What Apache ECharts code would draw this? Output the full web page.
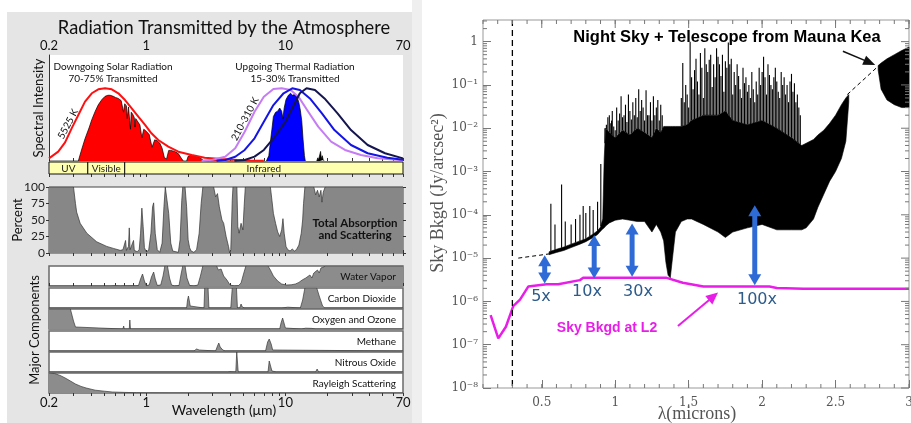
<!DOCTYPE html>
<html><head><meta charset="utf-8">
<script src="https://cdn.jsdelivr.net/npm/echarts@6/dist/echarts.min.js"></script>
<style>html,body{margin:0;padding:0;background:#fff}#c{position:relative;width:911px;height:423px}#l{position:absolute;left:0;top:0;width:412px;height:423px}#r,#s{position:absolute;left:412px;top:0;width:499px;height:423px}#s{pointer-events:none}</style>
</head><body><div id="c"><div id="l"></div><div id="r"></div><div id="s"></div></div>
<script>
// ---------------- LEFT PANEL DATA ----------------
const leftTitle = 'Radiation Transmitted by the Atmosphere';
const leftTickLabels = [0.2, 1, 10, 70];
const bandNames = ['UV', 'Visible', 'Infrared'];
const bandStart = [0.2, 0.38, 0.7];
const bandEnd = [0.38, 0.7, 70];

const solarEnvLam = [0.2,0.233,0.261,0.291,0.325,0.363,0.406,0.452,0.506,0.565,0.63,0.704,0.786,0.877,0.98,1.09,1.22,1.44,1.7,2.12,2.63,3.47,4.5,5.6,7.0];
const solarEnvVal = [2.5,8.8,17.6,30.8,43.4,56,63.9,67.6,68.6,67.6,63.9,57.5,49.7,41.8,34,26.1,19.8,13.5,8.8,5.7,3.1,1.9,1.0,0.5,0.2];

const solarLam = [0.2,0.3,0.325,0.34,0.363,0.39,0.406,0.43,0.452,0.48,0.506,0.53,0.55,0.58,0.6,0.63,0.66,0.68,0.687,0.70,0.72,0.73,0.745,0.76,0.77,0.78,0.8,0.82,0.83,0.84,0.88,0.9,0.93,0.96,1.0,1.05,1.1,1.15,1.2,1.25,1.3,1.35,1.4,1.45,1.5,1.6,1.7,1.8,1.85,1.95,2.0,2.1,2.2,2.3,2.4,2.5,2.6,2.8,2.9,3.2,3.5,3.8,4.2];
const solarVal = [0,0,0,9,21,32,39,47,53,58,61,62,62,61,60,59,57,56,46,54,52,40,51,38,30,46,44,41,32,40,36,34,22,30,28,25,13,20,19,17,12,3,2,10,10,9,7,2,0,0,4.5,5.5,5,4.5,3.5,2,0,0,1,1.5,1,0,0];

const t310Lam = [2.5,3.0,3.69,4.36,5.1,6.0,7.0,8.2,9.4,10.9,12.4,14.6,17.2,21.3,26.8,34.9,46,70];
const t310Val = [0.2,1.2,4.1,12,27.6,46.5,60.7,67.9,68.6,67,60.7,46.5,32.4,18.2,10.4,5.7,2.5,0.7];
const t260Lam = [3.2,3.69,4.36,5.1,6.0,7.0,8.2,9.7,11.2,12.7,15.0,18.3,22.5,29.6,39,54,70];
const t260Val = [0.3,1,4,10.4,21.4,37,52.8,63.9,68.6,67,59,45,29.2,15.1,7.3,3.1,1.2];
const t210Lam = [4.3,5.1,6.0,7.0,8.2,10.0,11.5,12.7,14.2,16.3,19.1,23.7,29.6,39,52,70];
const t210Val = [0.3,1,4.1,10.4,21.4,37,52.8,63.9,68.6,67,59,45,29.2,15.1,7.3,2.5];

const thermalLam = [7.3,7.6,7.8,8.0,8.2,8.5,8.8,9.1,9.4,9.6,9.8,10.1,10.5,10.9,11.2,11.5,11.8,12.1,12.5,12.8,13.1,13.4,13.7,13.9];
const thermalVal = [0,5,18,30,42,46,47,50,47,40,50,58,62,64,62,61,63,61,55,48,38,20,5,0];
const residLam = [16.8,17.1,17.3,17.5,17.7,17.9,18.1,18.4,18.7,19.0];
const residVal = [0,3,1,2,1,9,2,5,1,0];

const totalLam = [0.2,0.3,0.31,0.316,0.335,0.374,0.44,0.52,0.58,0.65,0.68,0.7,0.71,0.72,0.745,0.755,0.765,0.79,0.81,0.82,0.86,0.89,0.91,0.93,0.95,0.97,1.0,1.04,1.08,1.11,1.13,1.16,1.2,1.25,1.3,1.34,1.37,1.41,1.45,1.5,1.55,1.6,1.7,1.75,1.8,1.83,1.9,1.95,2.0,2.05,2.1,2.2,2.3,2.4,2.48,2.55,3.05,3.15,3.25,3.35,3.5,3.6,3.75,3.9,3.98,4.05,4.15,4.2,4.48,4.55,4.65,4.8,4.95,5.05,5.15,7.8,8.0,8.2,8.5,8.8,9.1,9.4,9.6,9.8,10.1,10.4,10.8,11.2,11.6,12.0,12.5,13.0,13.3,13.5,13.8,16.0,16.5,17.0,17.5,18.0,18.3,18.7,19.3,70];
const totalVal = [100,100,75,62,45,30,17,10,7,4,5,8,19,4,10,38,5,3,19,4,2,5,30,68,40,8,2,4,30,70,76,30,5,1,15,70,100,100,60,15,3,0,1,20,80,100,100,70,20,8,3,1,5,30,75,100,100,85,90,70,50,45,25,10,0,5,80,100,100,40,30,45,35,70,100,100,80,60,45,32,25,35,52,30,10,5,3,6,3,5,12,30,50,75,100,100,88,95,85,95,77,92,100,100];

const componentNames = ['Water Vapor', 'Carbon Dioxide', 'Oxygen and Ozone', 'Methane', 'Nitrous Oxide', 'Rayleigh Scattering'];
const waterLam = [0.2,0.55,0.6,0.65,0.7,0.72,0.74,0.8,0.82,0.84,0.88,0.91,0.94,0.97,1.0,1.05,1.09,1.13,1.16,1.2,1.27,1.32,1.36,1.42,1.47,1.52,1.6,1.72,1.78,1.83,1.9,1.96,2.05,2.2,2.35,2.45,2.55,3.2,3.3,3.45,3.6,3.8,4.0,4.3,4.6,4.8,5.0,5.2,7.5,7.8,8.2,8.8,9.4,10.2,11.0,11.8,12.5,13.2,13.5,14.0,14.4,15.0,15.5,16.0,16.5,17.0,17.5,18.0,18.5,19.5,70];
const waterVal = [0,0,2,0,1,8,1,2,10,1,3,35,60,25,2,5,45,70,35,3,5,50,100,100,40,5,0,3,60,100,100,40,3,0,5,50,100,100,80,85,50,30,5,0,2,15,60,100,100,80,50,25,10,5,6,10,18,30,20,40,30,55,40,65,55,80,65,90,80,100,100];
const co2Lam = [0.2,1.4,1.43,1.46,1.55,1.58,1.61,1.95,1.98,2.01,2.04,2.07,2.1,2.6,2.63,2.78,2.82,4.05,4.15,4.45,4.52,4.7,4.8,4.9,5.0,5.1,9.4,9.6,10.4,10.6,12.8,13.3,13.8,16.8,17.5,18.5,19.2,70];
const co2Val = [0,0,4,0,0,3,0,0,40,60,35,10,0,0,100,100,0,0,100,100,0,0,20,5,10,0,0,3,4,0,0,40,100,100,60,10,0,0];
const o2Lam = [0.2,0.285,0.3,0.31,0.32,0.68,0.688,0.695,0.755,0.762,0.77,1.25,1.265,1.28,4.6,4.75,4.85,9.1,9.3,9.55,9.8,10.0,10.2,13.0,14.0,15.5,16.5,70];
const o2Val = [100,100,40,10,0,0,15,0,0,45,0,0,6,0,0,8,0,0,30,55,45,5,0,0,4,3,0,0];
const ch4Lam = [0.2,2.2,2.3,2.4,2.45,3.15,3.25,3.32,3.4,3.55,3.7,7.2,7.45,7.65,7.9,8.1,8.3,70];
const ch4Val = [0,0,10,5,0,0,25,40,20,5,0,0,45,60,35,5,0,0];
const n2oLam = [0.2,2.85,2.9,2.95,3.85,3.9,4.0,4.05,4.4,4.47,4.52,4.58,7.5,7.65,7.8,8.0,8.6,16.5,16.9,17.3,70];
const n2oVal = [0,0,8,0,0,8,2,0,0,100,100,0,0,55,50,5,0,0,15,0,0];
const rayLam = [0.2,0.22,0.24,0.26,0.285,0.31,0.34,0.37,0.43,0.5,0.57,0.7,0.85,1.0,1.5,70];
const rayVal = [100,97,88,76,60,45,33,25,14,9,5,3,1.5,0.8,0.2,0];

// ---------------- RIGHT PANEL DATA ----------------
const rightTitle = 'Night Sky + Telescope from Mauna Kea';
const rightXLabels = [0.5, 1, 1.5, 2, 2.5, 3];
const rightYLabels = ['10\u207B\u2078','10\u207B\u2077','10\u207B\u2076','10\u207B\u2075','10\u207B\u2074','10\u207B\u00B3','10\u207B\u00B2','10\u207B\u00B9','1'];
const darkLimit = 0.3;

const l2Lam = [0.152,0.204,0.256,0.306,0.352,0.408,0.533,0.612,0.76,0.782,1.35,1.46,1.6,2.05,2.1,2.28,3.0];
const l2Val = [4.8e-7,1.4e-7,2.6e-7,7.8e-7,1.1e-6,2.2e-6,2.5e-6,2.5e-6,3.1e-6,3.5e-6,3.5e-6,2.7e-6,2.2e-6,2.2e-6,2.05e-6,1.95e-6,1.95e-6];

const mainLam = [0.55,0.6,0.65,0.7,0.76,0.8,0.85,0.88,0.9,0.915,0.925,0.935,0.96,1.0,1.05,1.1,1.15,1.2,1.25,1.28,1.31,1.33,1.345,1.36,1.375,1.39,1.41,1.45,1.49,1.52,1.6,1.7,1.75,1.8,1.9,2.0,2.1,2.2,2.27,2.3,2.35,2.38,2.42,2.46,2.5,2.54,2.57,2.59];
const mainTop = [1.4e-5,1.6e-5,1.8e-5,2.1e-5,2.5e-5,2.8e-5,3.6e-5,4.3e-5,5.2e-5,8e-5,2e-3,1e-2,8e-3,6e-3,9e-3,7e-3,1e-2,8e-3,6e-3,1e-2,8e-3,1.1e-2,1.1e-2,1.1e-2,1.1e-2,1.1e-2,1.1e-2,1.1e-2,1.2e-2,1.5e-2,2e-2,2e-2,2.5e-2,1.5e-2,1.2e-2,1.5e-2,1e-2,6e-3,4e-3,4.5e-3,5.5e-3,7e-3,9e-3,1.3e-2,2e-2,3.5e-2,5e-2,6e-2];
const mainBot = [1.2e-5,1.35e-5,1.5e-5,1.75e-5,2.1e-5,2.4e-5,3e-5,3.5e-5,4.2e-5,4.7e-5,5e-5,5.5e-5,6.5e-5,7.5e-5,8e-5,7.5e-5,7e-5,7e-5,4e-5,6e-5,4e-5,2.5e-5,8e-6,4e-6,3.5e-6,1e-5,4e-5,7e-5,8e-5,8e-5,6e-5,4e-5,3e-5,4e-5,5e-5,6e-5,4.5e-5,4.5e-5,4.5e-5,5e-5,8e-5,1.5e-4,3e-4,6e-4,1e-3,2e-3,5e-3,4e-2];
const edgeLam = [2.79,2.81,2.85,2.9,2.95,3.0];
const edgeTop = [0.28,0.32,0.4,0.5,0.62,0.75];
const edgeBot = [0.22,0.08,0.045,0.035,0.03,0.03];
const contALam = [0.34, 0.55];
const contAVal = [1e-5, 1.25e-5];
const contBLam = [2.58, 2.79];
const contBVal = [6e-2, 0.27];

const spikeLam = [0.562,0.59,0.635,0.66,0.7,0.73,0.76,0.782,0.8,0.827,0.85,0.88,0.902,
  0.93,0.94,0.95,0.96,0.97,0.975,0.98,0.99,1.0,1.01,1.02,1.03,1.04,1.05,1.06,1.07,1.08,1.09,1.1,1.11,1.12,1.13,1.14,1.15,1.16,1.17,1.18,1.19,1.2,1.21,1.22,1.23,1.24,1.25,1.26,1.27,1.28,1.29,1.3,1.31,1.32,
  1.45,1.46,1.47,1.48,1.49,1.5,1.51,1.52,1.53,1.54,1.55,1.56,1.57,1.58,1.59,1.6,1.61,1.62,1.63,1.64,1.65,1.66,1.67,1.68,1.69,1.7,1.71,1.72,1.73,1.74,1.75,1.76,1.77,1.78,1.79,1.8,1.81,1.82,1.83,1.84,1.85,1.86,1.87,1.88,1.89,1.9,1.91,1.92,1.93,1.94,1.95,1.96,1.97,1.98,1.99,2.0,2.01,2.02,2.03,2.04,2.05,2.06,2.07,2.08,2.09,2.1,2.11,2.12,2.13,2.14,2.15,2.16,2.17,2.18,2.19,2.2,2.21,2.22,2.23,2.24,2.25,2.26];
const spikeTop = [1.8e-4,6e-5,5e-4,7e-5,6e-5,8e-5,1e-4,1.6e-4,1.1e-4,1.6e-4,1.3e-4,2e-4,1.5e-3,
  0.01,0.012,0.018,0.02,0.013,0.015,0.025,0.011,0.009,0.03,0.015,0.022,0.055,0.018,0.02,0.035,0.014,0.06,0.025,0.016,0.04,0.02,0.05,0.018,0.08,0.025,0.045,0.03,0.015,0.075,0.02,0.02,0.04,0.015,0.055,0.02,0.03,0.045,0.015,0.035,0.02,
  0.05,0.32,0.04,0.1,0.06,0.03,1.0,0.15,0.08,0.22,0.4,0.12,0.06,0.55,0.25,0.05,0.7,0.3,0.2,0.38,0.5,0.09,0.3,0.15,0.7,0.45,0.3,0.16,0.5,0.07,0.35,0.25,0.95,0.3,0.4,0.06,0.2,0.1,0.3,0.16,0.08,0.05,0.25,0.11,0.15,0.07,0.1,0.05,0.2,0.08,0.04,0.12,0.06,0.25,0.1,0.2,0.45,0.15,0.06,0.3,0.17,0.1,0.08,0.15,0.25,0.12,0.07,0.05,0.2,0.1,0.15,0.06,0.1,0.04,0.12,0.18,0.07,0.11,0.04,0.06,0.03,0.02];

const ratioNames = ['5x', '10x', '30x', '100x'];
const ratioLam = [0.52, 0.857, 1.115, 1.95];
const ratioTop = [1.17e-5, 3.4e-5, 6.3e-5, 1.67e-4];
const ratioBot = [2.6e-6, 3.4e-6, 3.7e-6, 2.35e-6];
const l2ArrowLam = [1.427, 1.70];
const l2ArrowVal = [2.7e-7, 1.6e-6];
const skyArrowLam = [2.55, 2.77];
const skyArrowVal = [0.6, 0.29];

// ---------------- HELPERS ----------------
const zip = (a, b) => a.map((v, i) => [v, b[i]]);
const SANS = 'Lato';
const deg = Math.PI / 180;
const T = (text, x, y, o) => Object.assign({type: 'text', x: x, y: y, z: 100, silent: true,
  style: Object.assign({text: text, fill: '#111', fontSize: 10, fontFamily: SANS, align: 'center', verticalAlign: 'middle'}, (o && o.style) || {})},
  o ? {rotation: o.rotation || 0} : {});

// ================= LEFT CHART =================
const leftTickVals = [];
[0.1, 1, 10].forEach(d => { for (let k = 1; k <= 9; k++) { const v = +(k * d).toPrecision(3); if (v >= 0.2 && v <= 70) leftTickVals.push(v); } });
const L = 49, W = 354;
const compTops = [266, 288, 309, 331, 352, 373];
const grids = [
  {left: L, top: 55, width: W, height: 106, show: true, backgroundColor: '#fff', borderWidth: 0},
  {left: L, top: 162, width: W, height: 12},
  {left: L, top: 187, width: W, height: 66, show: true, backgroundColor: '#fff', borderColor: '#444', borderWidth: 1}
];
compTops.forEach(t => grids.push({left: L, top: t, width: W, height: 20, show: true, backgroundColor: '#fff', borderColor: '#6a6a6a', borderWidth: 1.5}));
grids.forEach(g => { g.outerBoundsMode = 'none'; g.containLabel = false; });
const lTick = {show: true, customValues: leftTickVals, length: 3, inside: false, lineStyle: {color: '#333', width: 1}};
const lLabel = {show: true, customValues: leftTickLabels, fontSize: 13, color: '#111', fontFamily: SANS, margin: 3, formatter: v => String(+(+v).toPrecision(3))};
function logX(grid, extra) {
  return Object.assign({type: 'log', logBase: 10, min: 0.2, max: 70, gridIndex: grid, axisLine: {show: false}, axisTick: {show: false}, axisLabel: {show: false}, splitLine: {show: false}}, extra || {});
}
function valY(grid, extra) {
  return Object.assign({type: 'value', min: 0, max: 100, gridIndex: grid, axisLine: {show: false}, axisTick: {show: false}, axisLabel: {show: false}, splitLine: {show: false}}, extra || {});
}
const xAxisL = [
  logX(0, {position: 'top', axisTick: lTick, axisLabel: lLabel}),
  logX(1, {position: 'bottom', axisTick: lTick}),
  logX(2, {position: 'bottom', axisTick: lTick}),
  logX(2, {position: 'top', axisTick: lTick}),
  logX(3, {position: 'top', axisTick: lTick}),
  logX(4), logX(5), logX(6), logX(7),
  logX(8, {position: 'bottom', axisTick: lTick, axisLabel: lLabel})
];
const yAxisL = [
  valY(0, {axisLine: {show: true, lineStyle: {color: '#333', width: 1}}}),
  valY(1),
  valY(2, {interval: 25, position: 'left', axisTick: {show: true, length: 3, lineStyle: {color: '#333'}}, axisLabel: {show: true, fontSize: 12, color: '#222', fontFamily: SANS, margin: 4}}),
  valY(2, {interval: 25, position: 'right', axisTick: {show: true, length: 3, lineStyle: {color: '#333'}}}),
  valY(3), valY(4), valY(5), valY(6), valY(7), valY(8)
];
const seriesL = [];
function area(arr, xi, yi, lam, val, fill, stroke, z) {
  arr.push({type: 'line', xAxisIndex: xi, yAxisIndex: yi, data: zip(lam, val), symbol: 'none', silent: true, z: z || 2,
    lineStyle: {color: stroke, width: 0.7}, areaStyle: {color: fill, opacity: 1}});
}
function curve(arr, xi, yi, lam, val, color, width, z, dash) {
  arr.push({type: 'line', xAxisIndex: xi, yAxisIndex: yi, data: zip(lam, val), symbol: 'none', silent: true, z: z || 3,
    lineStyle: {color: color, width: width, type: dash || 'solid'}});
}
area(seriesL, 0, 0, solarLam, solarVal, '#ff0000', '#000', 2);
curve(seriesL, 0, 0, solarEnvLam, solarEnvVal, '#ff1010', 2, 3);
area(seriesL, 0, 0, thermalLam, thermalVal, '#0000ff', '#000', 2);
area(seriesL, 0, 0, residLam, residVal, '#000', '#000', 2);
curve(seriesL, 0, 0, t310Lam, t310Val, '#c57cf5', 2, 4);
curve(seriesL, 0, 0, t260Lam, t260Val, '#1414e6', 2, 5);
curve(seriesL, 0, 0, t210Lam, t210Val, '#151550', 2, 6);
seriesL.push({type: 'custom', xAxisIndex: 1, yAxisIndex: 1, silent: true, z: 3,
  data: bandNames.map((n, i) => [bandStart[i], bandEnd[i], i]),
  renderItem: (params, api) => {
    const p1 = api.coord([api.value(0), 100]);
    const p2 = api.coord([api.value(1), 0]);
    return {type: 'group', children: [
      {type: 'rect', shape: {x: p1[0], y: p1[1], width: p2[0] - p1[0], height: p2[1] - p1[1]}, style: {fill: '#ffffb0', stroke: '#111', lineWidth: 1}},
      {type: 'text', x: (p1[0] + p2[0]) / 2, y: (p1[1] + p2[1]) / 2 + 0.5, style: {text: bandNames[api.value(2)], fill: '#222', fontSize: 10, fontFamily: SANS, align: 'center', verticalAlign: 'middle'}}
    ]};
  }});
area(seriesL, 2, 2, totalLam, totalVal, '#878787', '#333');
const comps = [[waterLam, waterVal], [co2Lam, co2Val], [o2Lam, o2Val], [ch4Lam, ch4Val], [n2oLam, n2oVal], [rayLam, rayVal]];
comps.forEach((c, i) => area(seriesL, 4 + i, 4 + i, c[0], c[1], '#8c8c8c', '#3a3a3a'));
const graphicL = [
  {type: 'rect', z: -100, silent: true, shape: {x: 7, y: 12, width: 405, height: 411}, style: {fill: '#e5e5e5'}},
  T(leftTitle, 224, 28, {style: {fontSize: 18.3}}),
  T('Downgoing Solar Radiation', 113, 67),
  T('70-75% Transmitted', 113, 79),
  T('Upgoing Thermal Radiation', 295, 67),
  T('15-30% Transmitted', 295, 79),
  T('5525 K', 68, 124, {rotation: 62 * deg, style: {fontSize: 10}}),
  T('210-310 K', 245, 119, {rotation: 62 * deg, style: {fontSize: 10}}),
  T('Spectral Intensity', 39, 108, {rotation: 90 * deg, style: {fontSize: 13}}),
  T('Percent', 18, 220, {rotation: 90 * deg, style: {fontSize: 13}}),
  T('Total Absorption', 355, 223, {style: {fontSize: 11.5, fontWeight: 'bold'}}),
  T('and Scattering', 355, 235, {style: {fontSize: 11.5, fontWeight: 'bold'}}),
  T('Major Components', 35, 330, {rotation: 90 * deg, style: {fontSize: 13}}),
  T('Wavelength (\u03BCm)', 224, 410, {style: {fontSize: 14}})
];
componentNames.forEach((n, i) => graphicL.push(T(n, 396, compTops[i] + 10.5, {style: {fontSize: 10, align: 'right'}})));
const chartL = echarts.init(document.getElementById('l'), null, {renderer: 'canvas', width: 412, height: 423});
chartL.setOption({animation: false, backgroundColor: '#fff', textStyle: {fontFamily: SANS},
  grid: grids, xAxis: xAxisL, yAxis: yAxisL, series: seriesL, graphic: graphicL});

// ================= RIGHT CHART =================
const OX = 412;
const rxMinor = []; for (let k = 1; k <= 30; k++) rxMinor.push(+(k * 0.1).toFixed(1));
const ryMajor = []; const ryMinor = [];
for (let e = -8; e <= 0; e++) { ryMajor.push(Math.pow(10, e)); for (let k = 2; k <= 9; k++) { const v = k * Math.pow(10, e); if (v < 3.16) ryMinor.push(v); } }
const Y_MIN = 1e-8, Y_MAX = 3.16, X_MIN = 0.1, X_MAX = 3.0;
const RG = {left: 483 - OX, top: 20, width: 426, height: 368};
const rTickCol = '#777';
const rLab = {fontFamily: 'DejaVu Serif', color: '#555', fontSize: 12};
function interpLog(lams, vals, x) {
  if (x <= lams[0]) return vals[0];
  for (let i = 1; i < lams.length; i++) if (x <= lams[i]) {
    const t = (x - lams[i - 1]) / (lams[i] - lams[i - 1]);
    return Math.pow(10, Math.log10(vals[i - 1]) * (1 - t) + Math.log10(vals[i]) * t);
  }
  return vals[vals.length - 1];
}
function bodyRender(lams, tops, bots) {
  return (params, api) => {
    const pts = [];
    for (let i = 0; i < lams.length; i++) pts.push(api.coord([lams[i], tops[i]]));
    for (let i = lams.length - 1; i >= 0; i--) pts.push(api.coord([lams[i], bots[i]]));
    return {type: 'polygon', shape: {points: pts}, style: {fill: '#000', stroke: '#000', lineWidth: 0.6}};
  };
}
function head(tip, from, len, hw, color) {
  const dx = tip[0] - from[0], dy = tip[1] - from[1], d = Math.hypot(dx, dy) || 1;
  const ux = dx / d, uy = dy / d, bx = tip[0] - ux * len, by = tip[1] - uy * len;
  return {type: 'polygon', shape: {points: [tip, [bx - uy * hw, by + ux * hw], [bx + uy * hw, by - ux * hw]]}, style: {fill: color}};
}
function arrowEls(a, b, color, width, len, hw, both) {
  const dx = b[0] - a[0], dy = b[1] - a[1], d = Math.hypot(dx, dy) || 1;
  const ux = dx / d, uy = dy / d;
  const s = both ? [a[0] + ux * len * 0.8, a[1] + uy * len * 0.8] : a;
  const e = [b[0] - ux * len * 0.8, b[1] - uy * len * 0.8];
  const els = [{type: 'line', shape: {x1: s[0], y1: s[1], x2: e[0], y2: e[1]}, style: {stroke: color, lineWidth: width}}];
  els.push(head(b, a, len, hw, color));
  if (both) els.push(head(a, b, len, hw, color));
  return els;
}
const seriesR = [];
seriesR.push({type: 'custom', data: [[1, 1e-4]], renderItem: bodyRender(mainLam, mainTop, mainBot)});
seriesR.push({type: 'custom', data: [[2.9, 0.1]], renderItem: bodyRender(edgeLam, edgeTop, edgeBot)});
seriesR.push({type: 'line', data: zip(contALam, contAVal), symbol: 'none', z: 6, lineStyle: {color: '#000', width: 1, type: [4, 3]}});
seriesR.push({type: 'line', data: zip(contBLam, contBVal), symbol: 'none', z: 6, lineStyle: {color: '#000', width: 1, type: [4, 3]}});
seriesR.push({type: 'line', data: zip(l2Lam, l2Val), symbol: 'none', z: 7, lineStyle: {color: '#e81ee8', width: 2.5}});
seriesR.push({type: 'custom', data: [[1, 1e-6]], z: 8, renderItem: (p, api) => {
  const ch = [];
  const d1 = api.coord([darkLimit, Y_MAX]), d2 = api.coord([darkLimit, Y_MIN]);
  ch.push({type: 'line', shape: {x1: d1[0], y1: d1[1], x2: d2[0], y2: d2[1]}, style: {stroke: '#000', lineWidth: 1.3, lineDash: [6, 4]}});
  ratioLam.forEach((l, i) => { arrowEls(api.coord([l, ratioBot[i]]), api.coord([l, ratioTop[i]]), '#2f6bd6', 5, 11, 6.5, true).forEach(e => ch.push(e)); });
  arrowEls(api.coord([l2ArrowLam[0], l2ArrowVal[0]]), api.coord([l2ArrowLam[1], l2ArrowVal[1]]), '#e81ee8', 2, 12, 5.5, false).forEach(e => ch.push(e));
  arrowEls(api.coord([skyArrowLam[0], skyArrowVal[0]]), api.coord([skyArrowLam[1], skyArrowVal[1]]), '#111', 1.5, 12, 5, false).forEach(e => ch.push(e));
  const tk = (x1, y1, x2, y2) => ch.push({type: 'line', shape: {x1: x1, y1: y1, x2: x2, y2: y2}, style: {stroke: rTickCol, lineWidth: 1}});
  rxMinor.forEach(v => { const b = api.coord([v, Y_MIN]), t = api.coord([v, Y_MAX]); tk(b[0], b[1], b[0], b[1] - 4); tk(t[0], t[1], t[0], t[1] + 4); });
  rightXLabels.forEach(v => { const t = api.coord([v, Y_MAX]); tk(t[0], t[1], t[0], t[1] + 8); });
  ryMinor.forEach(v => { const l = api.coord([X_MIN, v]), r = api.coord([X_MAX, v]); tk(l[0], l[1], l[0] + 4, l[1]); tk(r[0], r[1], r[0] - 4, r[1]); });
  ryMajor.forEach(v => { const r = api.coord([X_MAX, v]); tk(r[0], r[1], r[0] - 8, r[1]); });
  return {type: 'group', children: ch};
}});
const graphicR = [
  {type: 'rect', z: -100, silent: true, shape: {x: 0, y: 0, width: 10, height: 423}, style: {fill: '#efefef'}},
  T(rightTitle, 727 - OX, 37, {style: {fontSize: 16.5, fontWeight: 'bold', fontFamily: 'Liberation Sans', fill: '#000'}}),
  T('Sky Bkgd (Jy/arcsec\u00B2)', 438 - OX, 193, {rotation: 90 * deg, style: {fontSize: 18, fontFamily: 'Liberation Serif', fill: '#555'}}),
  T('\u03BB(microns)', 697 - OX, 414, {style: {fontSize: 18, fontFamily: 'Liberation Serif', fill: '#555'}}),
  T('Sky Bkgd at L2', 607 - OX, 328, {style: {fontSize: 14, fontWeight: 'bold', fontFamily: 'Liberation Sans', fill: '#e81ee8'}})
];
const ratioPos = [[541, 297], [587, 292], [638, 292], [757, 300]];
ratioNames.forEach((n, i) => graphicR.push(T(n, ratioPos[i][0] - OX, ratioPos[i][1], {style: {fontSize: 16, fontFamily: 'DejaVu Sans', fill: '#2d5b8a'}})));
const chartR = echarts.init(document.getElementById('r'), null, {renderer: 'canvas', width: 499, height: 423});
chartR.setOption({
  animation: false, backgroundColor: '#fff',
  grid: [Object.assign({outerBoundsMode: 'none', containLabel: false, show: true, backgroundColor: '#fff', borderColor: '#999', borderWidth: 1}, RG)],
  xAxis: [{type: 'value', min: X_MIN, max: X_MAX, splitLine: {show: false}, axisLine: {show: false},
    axisTick: {show: true, inside: true, length: 8, customValues: rightXLabels, lineStyle: {color: rTickCol}},
    axisLabel: Object.assign({show: true, customValues: rightXLabels, margin: 9, formatter: v => String(v)}, rLab)}],
  yAxis: [{type: 'log', logBase: 10, min: Y_MIN, max: Y_MAX, splitLine: {show: false}, axisLine: {show: false},
    axisTick: {show: true, inside: true, length: 8, customValues: ryMajor, lineStyle: {color: rTickCol}},
    axisLabel: Object.assign({show: true, customValues: ryMajor, margin: 5, formatter: v => rightYLabels[Math.round(Math.log10(v)) + 8]}, rLab)}],
  series: seriesR, graphic: graphicR
});

// ================= SPIKE OVERLAY (same axes, transparent) =================
const chartS = echarts.init(document.getElementById('s'), null, {renderer: 'canvas', width: 499, height: 423});
chartS.setOption({
  animation: false, backgroundColor: 'rgba(0,0,0,0)',
  grid: [Object.assign({outerBoundsMode: 'none', containLabel: false}, RG)],
  xAxis: [{type: 'value', min: X_MIN, max: X_MAX, show: false}],
  yAxis: [{type: 'log', logBase: 10, min: Y_MIN, max: Y_MAX, show: false}],
  series: [{type: 'custom', data: [[1.5, 1e-3]], z: 5, renderItem: (p, api) => ({type: 'group', children: spikeLam.map((l, i) => {
    const b = api.coord([l, interpLog(mainLam, mainTop, l)]);
    const t = api.coord([l, spikeTop[i]]);
    return {type: 'line', shape: {x1: b[0], y1: b[1], x2: t[0], y2: t[1]}, style: {stroke: '#000', lineWidth: 1.1}};
  })})}]
});
</script></body></html>
